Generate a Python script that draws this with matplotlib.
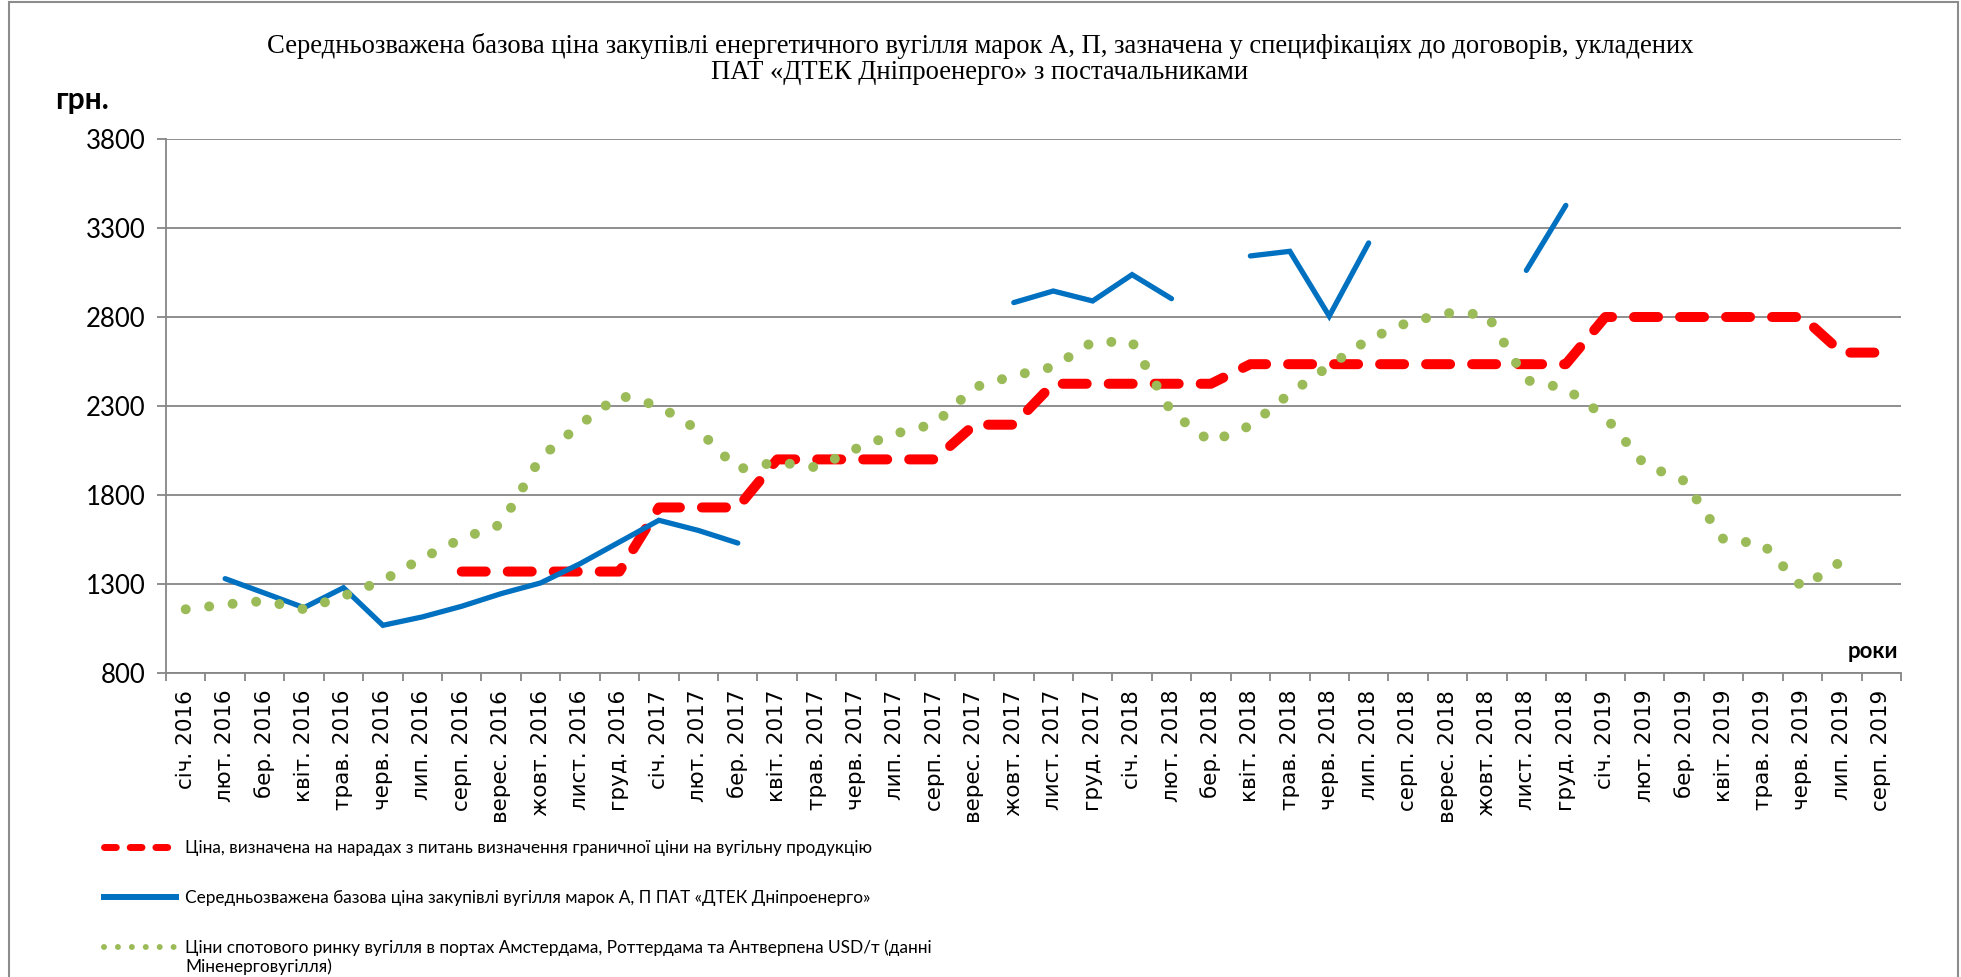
import matplotlib
matplotlib.use('Agg')
import matplotlib.pyplot as plt
import numpy as np
from matplotlib.lines import Line2D
from matplotlib.patches import Rectangle

nan = np.nan

months = ['січ.', 'лют.', 'бер.', 'квіт.', 'трав.', 'черв.',
          'лип.', 'серп.', 'верес.', 'жовт.', 'лист.', 'груд.']
years = [2016, 2017, 2018, 2019]
categories = [f'{m} {y}' for y in years for m in months][:44]

# Ціна, визначена на нарадах (red dashed)
red_price = [nan, nan, nan, nan, nan, nan, nan,
             1370, 1370, 1370, 1370, 1370,
             1730, 1730, 1730,
             2000, 2000, 2000, 2000, 2000,
             2195, 2195,
             2425, 2425, 2425, 2425, 2425,
             2535, 2535, 2535, 2535, 2535, 2535, 2535, 2535, 2535,
             2800, 2800, 2800, 2800, 2800, 2800,
             2600, 2600]

# Середньозважена базова ціна ДТЕК Дніпроенерго (blue)
blue_price = [nan, 1330, 1249, 1167, 1279, 1068, 1115, 1175, 1246, 1306, 1414, 1536,
              1658, 1601, 1530, nan, nan, nan, nan, nan, nan, 2881, 2946, 2890,
              3038, 2903, nan, 3143, 3169, 2805, 3216, nan, nan, nan, 3062, 3427,
              nan, nan, nan, nan, nan, nan, nan, nan]

# Ціни спотового ринку (green dotted)
green_price = [1158, 1185, 1205, 1158, 1232, 1320, 1445, 1555, 1635, 2010, 2195, 2360,
               2300, 2165, 1945, 1985, 1955, 2060, 2145, 2200, 2405, 2470, 2520, 2660,
               2660, 2265, 2098, 2190, 2370, 2525, 2675, 2770, 2822, 2815, 2445, 2398,
               2240, 1970, 1880, 1550, 1525, 1280, 1430, nan]

legend_labels = [
    'Ціна, визначена на нарадах з питань визначення граничної ціни на вугільну продукцію',
    'Середньозважена базова ціна закупівлі вугілля марок А, П ПАТ «ДТЕК Дніпроенерго»',
    'Ціни спотового ринку вугілля в портах Амстердама, Роттердама та Антверпена USD/т (данні',
]
legend_cont = 'Міненерговугілля)'
title = ('Середньозважена базова ціна закупівлі енергетичного вугілля марок А, П, зазначена у специфікаціях до договорів, укладених\n'
         'ПАТ «ДТЕК Дніпроенерго» з постачальниками')

RED = '#FF0000'
BLUE = '#0070C0'
GREEN = '#9BBB59'
GRAY = '#868686'

W, H = 1961, 977
fig = plt.figure(figsize=(W / 100, H / 100), dpi=100)
L, R, T, B = 166, 1901, 139, 673
ax = fig.add_axes([L / W, 1 - B / H, (R - L) / W, (B - T) / H])

x = np.arange(len(categories))
ax.plot(x, red_price, color=RED, lw=7.2, linestyle=(0, (2.4, 2.2)),
        dash_capstyle='round', solid_capstyle='round', zorder=3)
ax.plot(x, blue_price, color=BLUE, lw=3.8, solid_capstyle='round',
        solid_joinstyle='miter', zorder=4)
ax.plot(x, green_price, color=GREEN, lw=7.2, linestyle=(0, (0.001, 2.36)),
        dash_capstyle='round', zorder=5)

ax.set_xlim(-0.5, len(categories) - 0.5)
ax.set_ylim(800, 3800)
ax.set_yticks(range(800, 3801, 500))
ax.yaxis.grid(True, color=GRAY, lw=1.3)
ax.set_axisbelow(True)
for s in ['top', 'right']:
    ax.spines[s].set_visible(False)
for s in ['left', 'bottom']:
    ax.spines[s].set_color(GRAY)
    ax.spines[s].set_linewidth(1.3)

ax.set_xticks(x)
ax.set_xticklabels(categories, rotation=90, fontsize=15.5, family='DejaVu Sans')
ax.set_xticks(np.arange(-0.5, len(categories)), minor=True)
ax.tick_params(axis='x', which='major', length=0, pad=12)
ax.tick_params(axis='x', which='minor', length=6, color=GRAY, width=1.3)
ax.tick_params(axis='y', length=6.5, color=GRAY, width=1.3, pad=8.5, labelsize=18.5)
for lab in ax.get_yticklabels():
    lab.set_family('Lato')

fig.text(980 / W, 1 - 59 / H, title, ha='center', va='center', fontsize=19.2,
         family='Liberation Serif', linespacing=1.03)
fig.text(55 / W, 1 - 100 / H, 'грн.', ha='left', va='center', fontsize=21.5,
         family='Lato', fontweight='bold')
fig.text(1898 / W, 1 - 652 / H, 'роки', ha='right', va='center', fontsize=16,
         family='Lato', fontweight='bold')

handles = [
    Line2D([], [], color=RED, lw=5, linestyle=(0, (1.7, 2.0)), dash_capstyle='round'),
    Line2D([], [], color=BLUE, lw=4.3),
    Line2D([], [], color=GREEN, lw=4.3, linestyle=(0, (0.001, 2.33)), dash_capstyle='round'),
]
leg = fig.legend(handles, legend_labels, loc='upper left', bbox_to_anchor=(104 / W, 1 - 840 / H),
                 frameon=False, prop={'family': 'Lato', 'size': 12.4},
                 handlelength=4.2, handletextpad=0.5, labelspacing=1.97,
                 borderpad=0, borderaxespad=0)

# second line of the third legend label, placed under its first line
fig.canvas.draw()
renderer = fig.canvas.get_renderer()
t3 = leg.get_texts()[2]
bb = t3.get_window_extent(renderer)
fig.text(bb.x0 / W, (bb.y0 - 19) / H, legend_cont, ha='left', va='bottom',
         family='Lato', fontsize=12.4)

fig.add_artist(Rectangle((9 / W, -0.05), (1958 - 9) / W, 1.05 - 2 / H,
                         transform=fig.transFigure, fill=False,
                         edgecolor='#8C8C8C', lw=1.5))

fig.savefig('out.png', dpi=100)
